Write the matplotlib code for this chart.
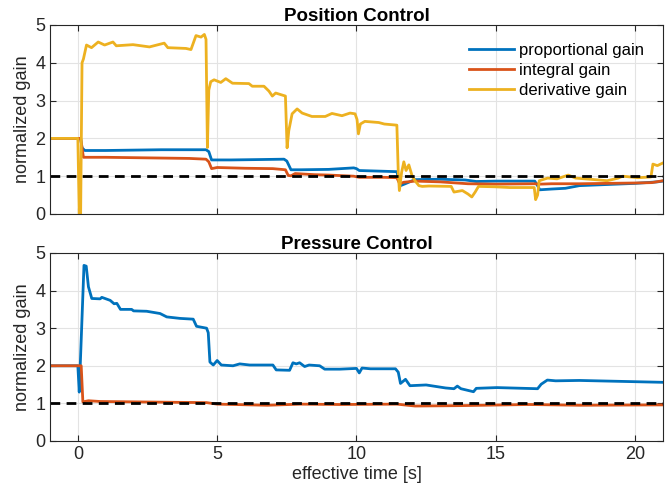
import numpy as np
import matplotlib.pyplot as plt

plt.rcParams['font.family'] = ['Liberation Sans', 'DejaVu Sans']

# cores padrao do MATLAB
c_p = '#0072BD'
c_i = '#D95319'
c_d = '#EDB120'

ref_gain = 1.0

# ---- Position Control ----
pos_t_p = [-1, 0.1, 0.15, 0.25, 1, 2, 3, 4, 4.6, 4.7, 4.8, 5.5, 6.5, 7.4, 7.5, 7.65, 8, 9, 9.9, 10.0,
           10.1, 11.0, 11.45, 11.52, 11.58, 11.75, 12.1, 13, 13.9, 14.1, 14.3, 15, 16.4, 16.5, 16.58,
           17.0, 17.5, 18, 19, 20, 20.8, 21]
pos_p = [2, 2, 1.75, 1.68, 1.68, 1.69, 1.70, 1.70, 1.70, 1.65, 1.43, 1.43, 1.44, 1.45, 1.40, 1.17,
         1.17, 1.18, 1.22, 1.2, 1.15, 1.13, 1.12, 0.9, 0.75, 0.8, 0.91, 0.92, 0.9, 0.88, 0.86, 0.87,
         0.87, 0.75, 0.64, 0.66, 0.68, 0.75, 0.78, 0.81, 0.85, 0.87]

pos_t_i = [-1, 0.1, 0.2, 1, 2, 3, 4, 4.6, 4.7, 4.8, 5.0, 6, 7, 7.45, 7.55, 7.65, 7.8, 8.5, 9, 9.9,
           10.1, 11, 11.45, 11.55, 11.7, 12.1, 13, 14, 15, 16.4, 16.6, 17, 18, 19, 20, 20.6, 21]
pos_i = [2, 2, 1.5, 1.5, 1.49, 1.48, 1.47, 1.45, 1.38, 1.2, 1.23, 1.21, 1.2, 1.17, 1.02, 1.01, 1.07,
         1.04, 1.03, 1.0, 0.97, 0.97, 0.96, 0.8, 0.84, 0.87, 0.85, 0.8, 0.79, 0.8, 0.79, 0.8, 0.8,
         0.81, 0.82, 0.83, 0.88]

pos_t_d = [-1, 0.0, 0.05, 0.1, 0.15, 0.2, 0.31, 0.49, 0.73, 0.96, 1.26, 1.38, 1.98, 2.57, 3.1, 3.23,
           3.88, 4.06, 4.24, 4.42, 4.54, 4.6, 4.65, 4.7, 4.77, 4.89, 5.13, 5.31, 5.55, 6.14, 6.26,
           6.68, 6.86, 6.98, 7.1, 7.45, 7.51, 7.57, 7.69, 7.87, 8.05, 8.4, 8.88, 9.12, 9.48, 9.77,
           9.95, 10.02, 10.07, 10.14, 10.3, 10.8, 11.0, 11.45, 11.5, 11.54, 11.62, 11.7, 11.78,
           11.88, 12.0, 12.1, 12.24, 12.36, 12.6, 13.4, 13.5, 13.8, 14.0, 14.14, 14.26, 14.38,
           14.95, 15.5, 16.38, 16.43, 16.5, 16.56, 16.86, 17.2, 17.6, 17.86, 18.7, 19.0, 19.4,
           19.55, 20.1, 20.57, 20.64, 20.8, 21]
pos_d = [2, 2, 0, 0, 4.0, 4.1, 4.47, 4.4, 4.55, 4.47, 4.55, 4.45, 4.48, 4.42, 4.52, 4.4,
         4.38, 4.35, 4.72, 4.68, 4.75, 4.62, 1.76, 3.28, 3.5, 3.55, 3.48, 3.58, 3.46, 3.45, 3.38,
         3.38, 3.25, 3.12, 3.2, 3.12, 1.75, 2.2, 2.65, 2.78, 2.67, 2.58, 2.58, 2.66, 2.6, 2.67,
         2.65, 2.5, 2.12, 2.38, 2.45, 2.42, 2.38, 2.35, 1.1, 0.62, 1.1, 1.38, 1.15,
         1.3, 1.0, 0.88, 0.75, 0.73, 0.74, 0.73, 0.58, 0.62, 0.53, 0.45, 0.58, 0.73,
         0.72, 0.70, 0.70, 0.38, 0.5, 0.88, 0.95, 0.93, 1.03, 0.95, 0.9, 0.88, 0.95,
         1.0, 0.96, 0.98, 1.32, 1.28, 1.35]

# ---- Pressure Control ----
prs_t_p = [-1, 0.0, 0.05, 0.22, 0.3, 0.38, 0.5, 0.8, 0.86, 1.16, 1.3, 1.4, 1.53, 1.93, 2.0, 2.47,
           2.95, 3.19, 3.67, 4.14, 4.26, 4.62, 4.68, 4.74, 4.86, 5.0, 5.15, 5.57, 5.81, 6.17, 7.0,
           7.12, 7.6, 7.72, 7.84, 7.96, 8.14, 8.3, 8.68, 8.86, 9.4, 10.0, 10.1, 10.2, 10.5, 11.4,
           11.5, 11.58, 11.76, 11.92, 12.5, 13.2, 13.5, 13.62, 13.75, 14.2, 14.3, 15.04, 16.5,
           16.63, 16.85, 17.15, 18, 19.8, 21]
prs_p = [2, 2, 1.3, 4.67, 4.65, 4.1, 3.79, 3.78, 3.82, 3.74, 3.65, 3.66, 3.5, 3.5, 3.46, 3.45,
         3.39, 3.3, 3.26, 3.24, 3.05, 3.0, 2.88, 2.1, 2.02, 2.14, 2.02, 2.0, 2.05, 2.02, 2.02,
         1.89, 1.88, 2.08, 2.05, 2.08, 1.98, 2.02, 2.0, 1.91, 1.91, 1.93, 1.81, 1.94, 1.92, 1.92,
         1.83, 1.53, 1.64, 1.47, 1.49, 1.41, 1.39, 1.46, 1.39, 1.31, 1.4, 1.42, 1.39,
         1.51, 1.62, 1.6, 1.61, 1.58, 1.56]

prs_t_i = [-1, 0.12, 0.18, 0.38, 0.8, 4.62, 5.0, 6.8, 8.0, 9.4, 11.45, 12.1, 13.7, 16.2, 18, 21]
prs_i = [2, 2, 1.04, 1.07, 1.05, 1.02, 0.98, 0.95, 0.98, 0.97, 0.98, 0.93, 0.94, 0.97, 0.95, 0.96]

fig = plt.figure(figsize=(6.71, 4.98), dpi=100)
ax1 = fig.add_axes([0.0745, 0.5703, 0.9135, 0.3795])
ax2 = fig.add_axes([0.0745, 0.1145, 0.9135, 0.3775])

lw = 2.0
ax1.plot(pos_t_p, pos_p, color=c_p, lw=lw, label='proportional gain')
ax1.plot(pos_t_i, pos_i, color=c_i, lw=lw, label='integral gain')
ax1.plot(pos_t_d, pos_d, color=c_d, lw=lw, label='derivative gain')

ax2.plot(prs_t_p, prs_p, color=c_p, lw=lw)
ax2.plot(prs_t_i, prs_i, color=c_i, lw=lw)

for ax, title in [(ax1, 'Position Control'), (ax2, 'Pressure Control')]:
    ax.axhline(ref_gain, color='k', lw=2, ls=(0, (3.5, 2.3)))
    ax.set_xlim(-1, 21)
    ax.set_ylim(0, 5)
    ax.set_xticks([0, 5, 10, 15, 20])
    ax.set_yticks([0, 1, 2, 3, 4, 5])
    ax.grid(True, color='#e3e3e3', lw=0.8)
    ax.set_axisbelow(True)
    ax.tick_params(direction='in', top=True, right=True, length=4, labelsize=13,
                   colors='#262626', width=0.8)
    for s in ax.spines.values():
        s.set_color('#262626')
        s.set_linewidth(0.8)
    ax.set_title(title, fontsize=13.5, fontweight='bold', pad=3)
    ax.set_ylabel('normalized gain', fontsize=13, color='#262626', labelpad=3)

ax1.tick_params(labelbottom=False)
ax2.set_xlabel('effective time [s]', fontsize=13, color='#262626', labelpad=2)

ax1.legend(loc='upper right', bbox_to_anchor=(0.985, 0.96), frameon=False, fontsize=12,
           handlelength=2.7, handletextpad=0.3, labelspacing=0.3, borderaxespad=0.2)

fig.savefig('out.png', dpi=100)
